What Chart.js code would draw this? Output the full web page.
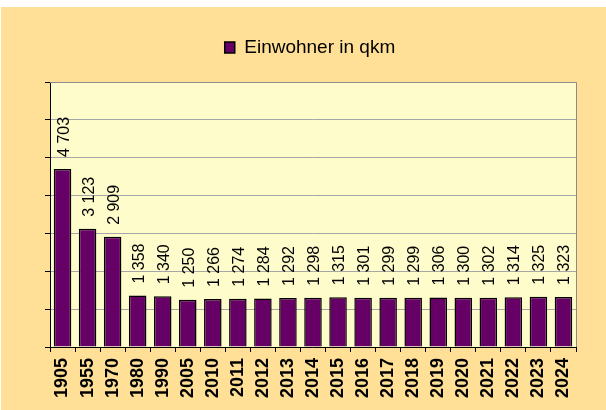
<!DOCTYPE html>
<html>
<head>
<meta charset="utf-8">
<script src="https://cdn.jsdelivr.net/npm/chart.js@4/dist/chart.umd.min.js"></script>
<style>
html,body{margin:0;padding:0;background:#fff;}
#wrap{position:relative;width:606px;height:410px;}
</style>
</head>
<body>
<div id="wrap"><canvas id="c" width="606" height="410"></canvas></div>
<script>
const years = ['1905','1955','1970','1980','1990','2005','2010','2011','2012','2013','2014','2015','2016','2017','2018','2019','2020','2021','2022','2023','2024'];
const density = [4703,3123,2909,1358,1340,1250,1266,1274,1284,1292,1298,1315,1301,1299,1299,1306,1300,1302,1314,1325,1323];
const seriesName = 'Einwohner in qkm';
const yMax = 7000;
const yStep = 1000;

const fmt = v => String(v).replace(/\B(?=(\d{3})+(?!\d))/g, ' ');

const bgPlugin = {
  id: 'bg',
  beforeLayout(chart) {
    const lg = chart.legend;
    if (lg && !lg._extraGap) {
      const orig = lg.fit.bind(lg);
      lg.fit = function () { orig(); this.height += 15; };
      lg._extraGap = true;
    }
  },
  beforeDraw(chart) {
    const ctx = chart.ctx, a = chart.chartArea;
    ctx.save();
    ctx.fillStyle = '#ffffff';
    ctx.fillRect(0, 0, chart.width, chart.height);
    ctx.fillStyle = '#FFE096';
    ctx.fillRect(1, 7, chart.width - 1, chart.height - 7);
    ctx.fillStyle = '#FFFCCB';
    ctx.fillRect(a.left, a.top, a.right - a.left, a.bottom - a.top);
    ctx.restore();
  },
  afterDatasetsDraw(chart) {
    const ctx = chart.ctx, a = chart.chartArea;
    ctx.save();
    ctx.strokeStyle = '#8c8c8c';
    ctx.lineWidth = 1;
    ctx.beginPath();
    ctx.moveTo(a.left, a.top + 0.5);
    ctx.lineTo(a.right + 0.5, a.top + 0.5);
    ctx.lineTo(a.right + 0.5, a.bottom);
    ctx.stroke();
    // data labels
    const meta = chart.getDatasetMeta(0);
    ctx.fillStyle = '#000';
    ctx.font = '16px "Liberation Sans", Arial, sans-serif';
    ctx.textAlign = 'left';
    ctx.textBaseline = 'alphabetic';
    meta.data.forEach((bar, i) => {
      ctx.save();
      ctx.translate(bar.x + 6, bar.y - 12);
      ctx.rotate(-Math.PI / 2);
      ctx.fillText(fmt(density[i]), 0, 0);
      ctx.restore();
    });
    ctx.restore();
  }
};

new Chart(document.getElementById('c'), {
  type: 'bar',
  data: {
    labels: years,
    datasets: [{
      label: seriesName,
      data: density,
      backgroundColor: '#660066',
      borderColor: '#000000',
      borderWidth: 1.5,
      categoryPercentage: 1,
      barPercentage: 0.7
    }]
  },
  options: {
    responsive: false,
    animation: false,
    devicePixelRatio: 1,
    layout: { padding: { left: 44, right: 30, top: 10, bottom: 0 } },
    plugins: {
      legend: {
        display: true,
        position: 'top',
        labels: {
          color: '#000',
          font: { family: '"Liberation Sans", Arial, sans-serif', size: 19 },
          boxWidth: 10,
          boxHeight: 11,
          padding: 28
        }
      },
      tooltip: { enabled: false }
    },
    scales: {
      x: {
        grid: { display: true, drawOnChartArea: false, drawTicks: true, tickLength: 5, tickColor: '#000', offset: true },
        border: { color: '#000', width: 1 },
        ticks: {
          color: '#000',
          font: { family: '"Liberation Sans", Arial, sans-serif', size: 18, weight: 'bold' },
          minRotation: 90, maxRotation: 90, autoSkip: false, padding: 6
        },
        afterFit: s => { s.height = 63; }
      },
      y: {
        min: 0, max: yMax,
        ticks: { display: false, stepSize: yStep },
        grid: { color: '#a6a6a6', lineWidth: 1, drawTicks: true, tickLength: 5, tickColor: '#000' },
        border: { color: '#000', width: 1 },
        afterFit: s => { s.width = 6; }
      }
    }
  },
  plugins: [bgPlugin]
});
</script>
</body>
</html>
